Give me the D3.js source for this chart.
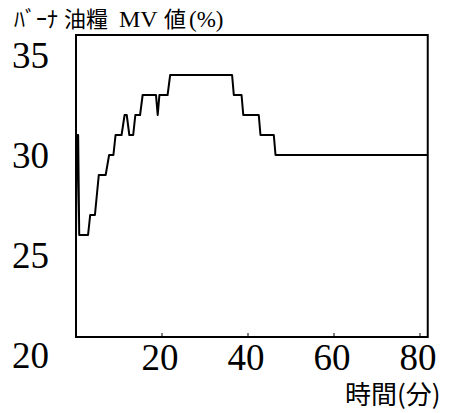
<!DOCTYPE html>
<html>
<head>
<meta charset="utf-8">
<script src="https://cdn.jsdelivr.net/npm/d3@7"></script>
<style>
  html, body { margin: 0; padding: 0; background: #fff; }
  svg { display: block; }
</style>
</head>
<body>
<svg id="chart" width="462" height="413"></svg>
<script>
// Burner oil MV value (%) over time (minutes)
const timeMin = [0, 0.25, 0.5, 0.75, 2.8, 3.3, 4.4, 5.3, 6.9, 7.7, 8.7, 9.2, 10.6, 11.3, 11.8, 12.4, 13.3, 13.8, 14.9, 15.5,
                 18.6, 19.0, 19.4, 21.3, 21.9, 36.3, 36.7, 38.5, 38.9, 42.5, 42.9, 46.0, 46.4, 81.8];
const mvValue = [26, 31, 31, 26, 26, 27, 27, 29, 29, 30, 30, 31, 31, 32, 32, 31, 31, 32, 32, 33,
                 33, 32, 33, 33, 34, 34, 33, 33, 32, 32, 31, 31, 30, 30];
const xTicks = [20, 40, 60, 80];
const yTicks = [20, 25, 30, 35];

const svg = d3.select("#chart");

const x = d3.scaleLinear().domain([0, 80]).range([76, 420]);
const y = d3.scaleLinear().domain([20, 35]).range([355, 55]);

// plot frame
const frame = { left: x(0), right: x(81.8), top: y(36), bottom: 337 };
svg.append("rect")
  .attr("x", frame.left).attr("y", frame.top)
  .attr("width", frame.right - frame.left)
  .attr("height", frame.bottom - frame.top)
  .attr("fill", "none").attr("stroke", "#000").attr("stroke-width", 2);

// small inward ticks on the bottom edge
svg.append("g").selectAll("line").data(xTicks).join("line")
  .attr("x1", d => x(d)).attr("x2", d => x(d))
  .attr("y1", frame.bottom).attr("y2", frame.bottom - 4)
  .attr("stroke", "#000").attr("stroke-width", 1);

// tick labels
const serif = "'Liberation Serif', 'Times New Roman', serif";
svg.append("g").selectAll("text").data(xTicks).join("text")
  .attr("x", d => x(d) - 2).attr("y", 370)
  .attr("text-anchor", "middle")
  .attr("font-family", serif).attr("font-size", 37)
  .text(d => d);

svg.append("g").selectAll("text").data(yTicks).join("text")
  .attr("x", 12).attr("y", d => y(d) + 13)
  .attr("font-family", serif).attr("font-size", 37)
  .text(d => d);

// MV trace
const line = d3.line().x((d, i) => x(timeMin[i])).y(d => y(d));
svg.append("path")
  .datum(mvValue)
  .attr("d", line)
  .attr("fill", "none").attr("stroke", "#000")
  .attr("stroke-width", 2).attr("stroke-linejoin", "round");

// axis titles
const cjk = "'Noto Sans CJK JP', sans-serif";
const title = svg.append("text").attr("y", 27).attr("font-size", 22).attr("font-family", cjk);
title.append("tspan").attr("x", 14).text("ﾊﾞｰﾅ");
title.append("tspan").attr("x", 64).text("油糧");
title.append("tspan").attr("x", 119).attr("font-family", serif).attr("font-size", 24).text("MV");
title.append("tspan").attr("x", 164).text("値");
title.append("tspan").attr("x", 189).attr("font-family", serif).attr("font-size", 23).text("(%)");

svg.append("text")
  .attr("x", 345).attr("y", 404)
  .attr("font-family", cjk).attr("font-size", 26)
  .text("時間(分)");
</script>
</body>
</html>
